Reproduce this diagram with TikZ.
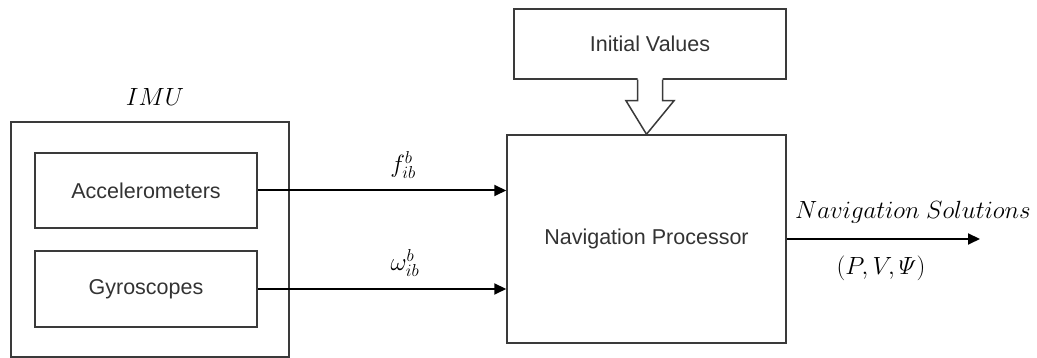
\documentclass[tikz,border=0pt]{standalone}
\usepackage{amsmath}
\usepackage[no-math]{fontspec}
\setmainfont{Liberation Sans}
\usetikzlibrary{arrows.meta,calc}
\definecolor{boxline}{HTML}{3A3A3A}
\definecolor{boxtext}{HTML}{333333}
\begin{document}
\begin{tikzpicture}[x=1pt,y=1pt,
  block/.style={draw=boxline,line width=1.5pt,fill=white,inner sep=0pt,
    text=boxtext,font=\fontsize{21.5}{25}\selectfont},
  signal/.style={draw=black,line width=2pt,
    -{Triangle[length=12pt,width=11pt]}},
  mlabel/.style={inner sep=0pt,font=\fontsize{23}{27}\selectfont}]
\useasboundingbox (0,0) rectangle (1037,358);

% inertial measurement unit
\node[block,minimum width=278,minimum height=235] (imu) at (150,118.5) {};
\node[mlabel,font=\fontsize{29}{33}\selectfont] (imulabel) at (155,261) {$IMU$};
\node[block,minimum width=222,minimum height=75] (acc) at (146,167.5) {Accelerometers};
\node[block,minimum width=222,minimum height=76] (gyro) at (146,69) {Gyroscopes};

% processor and its initialisation
\node[block,minimum width=279,minimum height=208] (nav) at (646.5,119) {Navigation Processor};
\node[block,minimum width=272,minimum height=70] (init) at (650,314) {Initial Values};

% hollow block arrow from the initial values into the processor
\path[fill=white] ($(init.south)+(-12.5,2)$) -- ($(init.south)+(-12.5,-21)$)
  -- ($(init.south)+(-24,-21)$) -- (nav.north) -- ($(init.south)+(24,-21)$)
  -- ($(init.south)+(12.5,-21)$) -- ($(init.south)+(12.5,2)$) -- cycle;
\draw[boxline,line width=1.5pt,line join=miter]
  ($(init.south)+(-12.5,0)$) -- ($(init.south)+(-12.5,-21)$)
  -- ($(init.south)+(-24,-21)$) -- (nav.north) -- ($(init.south)+(24,-21)$)
  -- ($(init.south)+(12.5,-21)$) -- ($(init.south)+(12.5,0)$);

% sensor outputs
\draw[signal] (acc.east) -- (acc.east -| nav.west);
\draw[signal] (gyro.east) -- (gyro.east -| nav.west);
\node[mlabel,font=\fontsize{26}{30}\selectfont] (flabel) at (403,193) {$f_{ib}^{b}$};
\node[mlabel,font=\fontsize{26}{30}\selectfont] (wlabel) at (405,95) {$\omega_{ib}^{b}$};

% navigation output
\coordinate (outend) at (980,119);
\draw[signal] (nav.east) -- (outend);
\node[mlabel] (sollabel) at (913,146) {$Navigation\ Solutions$};
\node[mlabel] (pvlabel) at (881,90) {$(P,V,\varPsi)$};
\end{tikzpicture}
\end{document}
